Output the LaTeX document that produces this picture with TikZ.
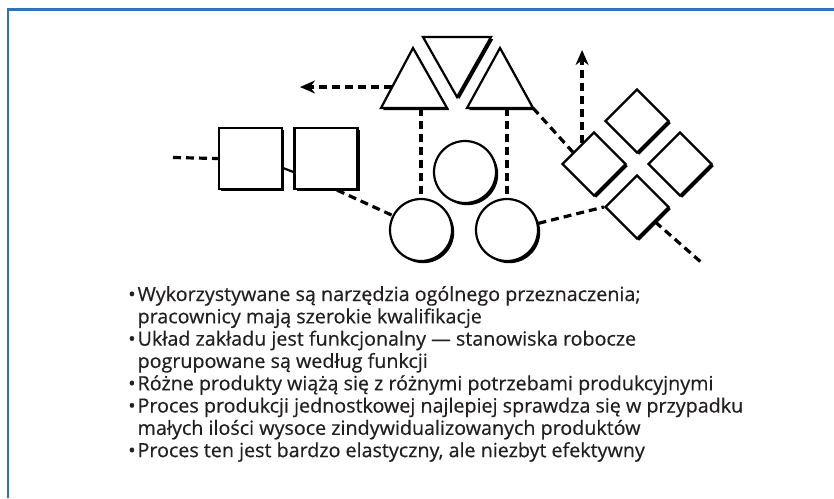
\documentclass[tikz,border=0pt]{standalone}
\usepackage{fontspec}
\setmainfont[FakeStretch=1.01,FakeBold=0.5]{Open Sans}
\usetikzlibrary{shapes.geometric,arrows.meta,calc,shadows}
\definecolor{frameblue}{RGB}{46,117,182}
\definecolor{ink}{RGB}{35,31,32}
\tikzset{
  unit/.style={draw=black, line width=2.2pt, fill=white,
    drop shadow={shadow xshift=2.2pt, shadow yshift=-2.2pt, fill=black, opacity=1}},
  box/.style={unit, rectangle, minimum width=63pt, minimum height=61pt, inner sep=0pt},
  ring/.style={unit, circle, minimum size=62pt, inner sep=0pt},
  rhomb/.style={unit, diamond, aspect=1, minimum size=64pt, inner sep=0pt},
  flow/.style={line width=3.2pt, dash pattern=on 8pt off 5pt, black},
  flowarrow/.style={flow, -{Stealth[length=15pt,width=13pt]}},
  link/.style={line width=2.2pt, black},
  frameline/.style={line width=2.2pt, frameblue},
}
\begin{document}
\begin{tikzpicture}[x=1pt,y=-1pt]
\useasboundingbox (0,0) rectangle (834,498);

% outer frame: top and left rules
\draw[frameline] (8,498) -- (8,9.5) -- (834,9.5);

% work stations: boxes
\node[box] (A) at (250.5,158.5) {};
\node[box] (B) at (326,158.5) {};

% triangles
\draw[unit] (381,108) -- (413,48) -- (447,108) -- cycle;
\draw[unit] (423,37) -- (491,37) -- (457,97) -- cycle;
\draw[unit] (467,108) -- (500,48) -- (533,108) -- cycle;
\coordinate (t1side) at (392,87);
\coordinate (t1foot) at (421,108);
\coordinate (t3foot) at (507,108);
\coordinate (t3corner) at (533,108);

% circles
\node[ring] (C0) at (465,172) {};
\node[ring] (C1) at (421,230) {};
\node[ring] (C2) at (507,230) {};

% diamonds
\node[rhomb] (D1) at (594,164) {};
\node[rhomb] (D2) at (637,121) {};
\node[rhomb] (D3) at (680,164) {};
\node[rhomb] (D4) at (637,207) {};

% free ends of the flow
\coordinate (inA) at (173,157.5);
\coordinate (outL) at (300,87);
\coordinate (outU) at (582.5,50);
\coordinate (outD) at (702,263);

% flow between stations
\draw[flow] (inA) -- (A.west);
\draw[link] ($(A.east)+(0,9.5)$) -- ($(B.west)+(0,13.5)$);
\draw[flow] ($(B.south)+(11,0)$) -- (C1.153);
\draw[flow] (t1foot) -- (C1.north);
\draw[flow] (t3foot) -- (C2.north);
\draw[flowarrow] (t1side) -- (outL);
\draw[flow] (t3corner) -- ($(D1.west)!0.36!(D1.north)$);
\coordinate (d1up) at ($(D1.west)!0.64!(D1.north)$);
\draw[flowarrow] (d1up) -- (d1up |- outU);
\draw[flow] (C2.12) -- (D4.west);
\draw[flow] ($(D4.south)!0.55!(D4.east)$) -- (outD);

% characteristics
\node[anchor=base west, inner sep=0pt, text=ink] (notes) at (128,301) {%
  \fontsize{19.5pt}{22.3pt}\selectfont
  \begin{tabular}[t]{@{}l@{\hspace{2pt}}l@{}}
  • & Wykorzystywane są narzędzia ogólnego przeznaczenia; \\
    & pracownicy mają szerokie kwalifikacje \\
  • & Układ zakładu jest funkcjonalny — stanowiska robocze \\
    & pogrupowane są według funkcji \\
  • & Różne produkty wiążą się z różnymi potrzebami produkcyjnymi \\
  • & Proces produkcji jednostkowej najlepiej sprawdza się w przypadku \\
    & małych ilości wysoce zindywidualizowanych produktów \\
  • & Proces ten jest bardzo elastyczny, ale niezbyt efektywny
  \end{tabular}};
\end{tikzpicture}
\end{document}
